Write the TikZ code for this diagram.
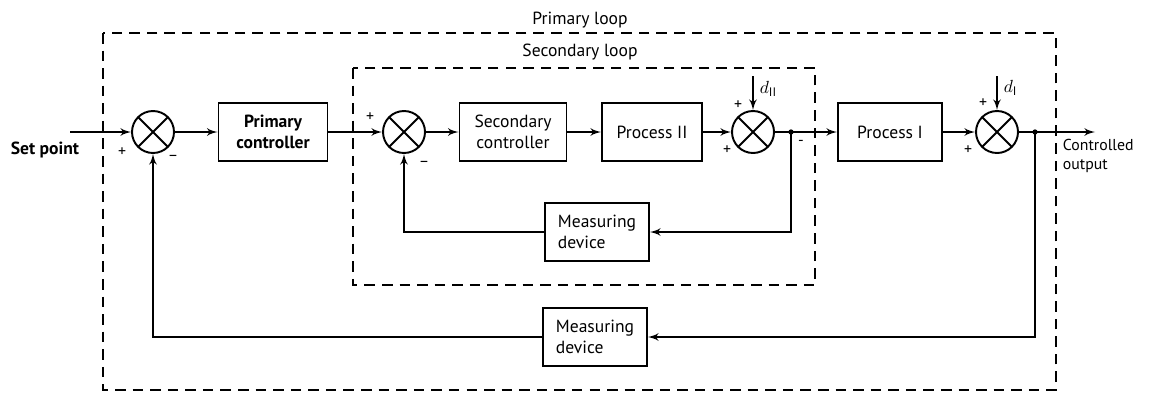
\documentclass[tikz,border=0pt]{standalone}
\usepackage{fontspec}
\setmainfont{PT Sans}
\usetikzlibrary{arrows,positioning}

\begin{document}
\begin{tikzpicture}[node distance=2cm, auto, line width=1.1pt]
        % Define block styles
        \tikzstyle{block} = [rectangle, draw, align=center, minimum width=2.1cm, minimum height=1.16cm, inner sep=2pt]
        \tikzstyle{sum} = [circle, draw, minimum size=0.84cm, inner sep=0pt, path picture={\draw (path picture bounding box.north west) -- (path picture bounding box.south east) (path picture bounding box.south west) -- (path picture bounding box.north east);}]
        \tikzstyle{line} = [draw, -latex']
        \tikzstyle{loop} = [draw, dash pattern=on 6pt off 4pt, line width=0.9pt]
        \tikzstyle{sign} = [font=\small, inner sep=1pt]

        \useasboundingbox (0,0) rectangle (23.1,-8.02);

        % Place nodes
        \node [sum] (sum1) at (3.06,-2.64) {};
        \node [block, font=\bfseries, right of=sum1, node distance=2.4cm, minimum width=2.18cm] (pc) {Primary\\controller};
        \node [sum, right of=pc, node distance=2.62cm] (sum2) {};
        \node [block, right of=sum2, node distance=2.18cm, minimum width=2.14cm] (sc) {Secondary\\controller};
        \node [block, right of=sc, node distance=2.78cm, minimum width=2.0cm] (p2) {Process II};
        \node [sum, right of=p2, node distance=2.02cm] (sum3) {};
        \node [block, right of=sum3, node distance=2.74cm, minimum width=2.08cm] (p1) {Process I};
        \node [sum, right of=p1, node distance=2.14cm] (sum4) {};
        \node [block, align=left, minimum width=2.08cm] (md2) at (11.94,-4.64) {Measuring\\device};
        \node [block, align=left, minimum width=2.08cm] (md1) at (11.9,-6.74) {Measuring\\device};

        % Inputs, take-off points and output
        \coordinate (in) at (1.4,-2.64);
        \coordinate [right of=sum3, node distance=0.76cm] (b2);
        \coordinate [right of=sum4, node distance=0.76cm] (b1);
        \coordinate [right of=sum4, node distance=1.96cm] (out);
        \coordinate [above of=sum3, node distance=1.12cm] (dII);
        \coordinate [above of=sum4, node distance=1.12cm] (dI);

        % Forward path
        \path [line] (in) -- (sum1);
        \path [line] (sum1) -- (pc);
        \path [line] (pc) -- (sum2);
        \path [line] (sum2) -- (sc);
        \path [line] (sc) -- (p2);
        \path [line] (p2) -- (sum3);
        \path [line] (sum3) -- (p1);
        \path [line] (p1) -- (sum4);
        \path [line] (sum4) -- (out);
        \path [line] (dII) -- (sum3);
        \path [line] (dI) -- (sum4);

        % Feedback paths
        \path [line] (b2) |- (md2);
        \path [line] (md2) -| (sum2);
        \path [line] (b1) |- (md1);
        \path [line] (md1) -| (sum1);
        \fill (b2) circle (1.5pt);
        \fill (b1) circle (1.5pt);

        % Loop boundaries
        \draw [loop] (2.06,-0.66) rectangle (21.12,-7.8);
        \draw [loop] (7.06,-1.36) rectangle (16.3,-5.7);
        \node (primloop) at (11.6,-0.4) {Primary loop};
        \node (secloop) at (11.6,-1.04) {Secondary loop};

        % Signs and labels
        \node [sign] at ([xshift=-0.62cm, yshift=-0.4cm]sum1) {+};
        \node [sign] at ([xshift=0.4cm, yshift=-0.52cm]sum1) {--};
        \node [sign] at ([xshift=-0.68cm, yshift=0.3cm]sum2) {+};
        \node [sign] at ([xshift=0.4cm, yshift=-0.64cm]sum2) {--};
        \node [sign] at ([xshift=-0.3cm, yshift=0.54cm]sum3) {+};
        \node [sign] at ([xshift=-0.52cm, yshift=-0.36cm]sum3) {+};
        \node [sign] at ([xshift=0.2cm, yshift=-0.22cm]b2) {-};
        \node [sign] at ([xshift=-0.28cm, yshift=0.58cm]sum4) {+};
        \node [sign] at ([xshift=-0.58cm, yshift=-0.36cm]sum4) {+};
        \node [right] (dIIlabel) at ([yshift=-0.26cm]dII) {$d_{\mathrm{II}}$};
        \node [right] (dIlabel) at ([yshift=-0.24cm]dI) {$d_{\mathrm{I}}$};
        \node [font=\bfseries] (setpoint) at (0.9,-3.0) {Set point};
        \node [anchor=north west, align=left, font=\small, inner sep=0pt] (output) at (21.24,-2.76) {Controlled\\output};
\end{tikzpicture}
\end{document}
